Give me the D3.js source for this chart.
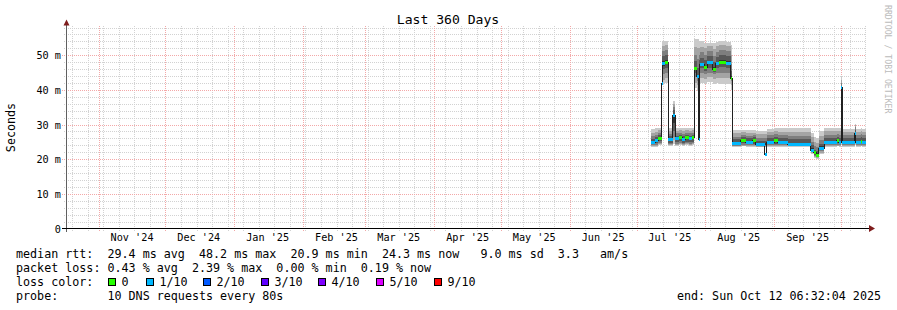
<!DOCTYPE html>
<html><head><meta charset="utf-8">
<script src="https://cdn.jsdelivr.net/npm/d3@7"></script>
<style>
body{margin:0;background:#fff}
svg{display:block}
text{font-family:"DejaVu Sans Mono",monospace;white-space:pre}
</style>
</head><body><svg id="c" width="897" height="310"></svg>
<script>
// ---------- data ----------
const title = "Last 360 Days";
const startTime = "2024-10-17T06:32:04";
const endTime = "2025-10-12T06:32:04";
const yTicks = [0, 10, 20, 30, 40, 50];
const yTickLabels = ["0", "10 m", "20 m", "30 m", "40 m", "50 m"];
const yMax = 58.3;

// segment start times (UTC), median rtt (ms), average lost pings (of 10)
const times = [
 "2025-07-07T09:00","2025-07-09T12:00","2025-07-10T18:00","2025-07-12T06:00","2025-07-12T15:00",
 "2025-07-14T00:00","2025-07-15T06:00","2025-07-17T06:00","2025-07-18T12:00","2025-07-20T00:00",
 "2025-07-21T12:00","2025-07-23T00:00","2025-07-24T12:00","2025-07-26T00:00","2025-07-27T00:00",
 "2025-07-28T00:00","2025-07-28T22:00","2025-07-29T12:00","2025-07-31T09:00","2025-08-01T22:00",
 "2025-08-04T05:00","2025-08-05T14:00","2025-08-07T02:00","2025-08-10T02:00","2025-08-12T10:00",
 "2025-08-13T03:00","2025-08-16T22:00","2025-08-19T05:00","2025-08-22T05:00","2025-08-23T17:00",
 "2025-08-27T17:00","2025-08-28T14:00","2025-09-01T02:00","2025-09-02T14:00","2025-09-07T02:00",
 "2025-09-17T10:00","2025-09-18T18:00","2025-09-19T20:00","2025-09-21T02:00","2025-09-23T10:00",
 "2025-09-29T00:00","2025-09-30T00:00","2025-10-01T02:00","2025-10-01T16:00","2025-10-07T06:00",
 "2025-10-07T18:00","2025-10-10T00:00","2025-10-10T12:00"
];
const median = [
 24.9,25.3,26.1,41.8,47.6, 48.0,25.8,32.6,25.9,26.3,
 25.8,26.2,25.9,26.2,46.2, 44.0,25.6,47.3,46.5,47.9,
 46.0,47.6,48.0,47.7,43.4, 24.6,25.4,24.9,25.3,24.2,
 21.3,24.9,25.4,24.9,24.2, 22.5,21.8,21.0,23.0,24.9,
 25.3,24.9,40.8,24.8,27.3, 24.8,25.2,24.8
];
const loss = [
 0.3,0.2,0,0.2,0.3, 0,0.3,0.4,0.3,0,
 0.2,0,0.1,0,0, 0.4,0.5,0.3,0,0.2,
 0,0.2,0,0.2,0, 0.4,0,0.2,0,0.5,
 0.4,0.3,0,0.3,0.6, 0.5,0,0,0.4,0.3,
 0,0.3,0.2,0.3,0.2, 0.3,0,0.2
];
// sorted ping rtts (ms) per segment: fastest .. slowest
const pings = [
 [23.5,23.8,24.1,24.4,24.7,25.2,25.9,26.7,27.6,28.7],
 [23.6,23.9,24.2,24.6,25.0,25.6,26.3,27.0,27.9,28.9],
 [24.0,24.4,24.8,25.3,25.8,26.4,27.0,27.6,28.3,29.1],
 [40.2,40.6,41.0,41.3,41.6,42.0,42.3,42.6,43.0,43.5],
 [41.8,43.0,44.5,46.0,47.0,48.3,49.8,51.2,52.8,54.0],
 [42.0,43.3,44.8,46.2,47.4,48.6,50.0,51.4,53.0,54.2],
 [23.8,24.1,24.4,24.8,25.4,26.0,26.7,27.4,28.2,29.0],
 [24.5,25.5,26.5,28.0,30.5,33.0,34.3,35.2,36.0,36.8],
 [23.9,24.2,24.5,24.9,25.5,26.1,26.8,27.5,28.2,28.9],
 [24.0,24.3,24.7,25.2,25.9,26.5,27.1,27.7,28.4,29.1],
 [23.8,24.1,24.4,24.8,25.4,26.0,26.7,27.4,28.2,29.0],
 [24.0,24.3,24.7,25.1,25.8,26.4,27.0,27.7,28.4,29.1],
 [23.9,24.2,24.5,24.9,25.5,26.1,26.8,27.5,28.2,28.9],
 [24.0,24.3,24.7,25.1,25.8,26.4,27.0,27.7,28.4,29.1],
 [40.5,42.0,43.8,45.0,45.8,46.6,48.2,50.2,52.5,54.8],
 [39.8,41.4,42.6,43.4,43.8,44.4,46.4,49.0,52.0,54.6],
 [40.5,42.0,43.5,45.0,46.0,47.0,48.5,50.0,52.0,54.0],
 [42.0,43.5,45.0,46.2,47.0,47.8,49.2,50.8,52.5,54.2],
 [41.8,43.2,44.6,45.6,46.2,47.0,48.5,50.2,52.0,53.6],
 [42.2,43.6,45.0,46.4,47.4,48.4,49.8,51.2,52.6,53.6],
 [41.8,43.2,44.5,45.3,45.8,46.5,48.0,49.8,51.8,53.5],
 [41.9,43.4,44.9,46.3,47.2,48.1,49.6,51.0,52.6,53.8],
 [41.6,43.4,45.0,46.6,47.6,48.5,50.0,51.6,53.0,54.0],
 [41.7,43.3,44.9,46.4,47.3,48.2,49.7,51.3,52.8,53.9],
 [40.0,41.5,42.5,43.0,43.3,44.0,45.5,47.5,50.0,53.0],
 [23.5,23.7,23.9,24.1,24.4,24.9,25.7,26.5,27.5,28.3],
 [23.7,23.9,24.2,24.6,25.1,25.7,26.4,27.1,27.8,28.5],
 [23.5,23.7,24.0,24.3,24.7,25.2,26.0,26.8,27.6,28.4],
 [23.6,23.8,24.1,24.5,25.0,25.6,26.3,27.0,27.7,28.4],
 [23.4,23.6,23.8,24.0,24.2,24.6,25.3,26.2,27.2,28.2],
 [23.4,23.6,23.8,24.0,24.2,24.6,25.3,26.2,27.2,28.2],
 [23.5,23.7,24.0,24.3,24.7,25.2,26.0,26.9,27.9,28.8],
 [23.6,23.8,24.1,24.5,25.0,25.6,26.4,27.2,28.1,28.9],
 [23.5,23.7,24.0,24.3,24.7,25.2,26.0,26.9,27.9,28.9],
 [23.5,23.7,23.9,24.1,24.3,24.8,25.7,26.8,27.9,29.0],
 [21.5,21.8,22.1,22.4,22.8,23.3,24.0,25.0,26.3,27.5],
 [20.4,20.7,21.0,21.3,21.6,22.1,22.8,23.8,25.0,26.5],
 [20.1,20.3,20.6,20.9,21.2,21.7,22.4,23.4,24.6,26.0],
 [21.5,21.9,22.3,22.7,23.1,23.7,24.5,25.6,26.8,28.0],
 [23.6,23.8,24.1,24.4,24.8,25.3,26.1,27.0,28.0,28.9],
 [23.7,23.9,24.2,24.6,25.1,25.7,26.5,27.3,28.2,29.0],
 [23.6,23.8,24.1,24.4,24.8,25.3,26.1,27.0,28.0,28.9],
 [24.0,25.0,26.0,28.0,33.0,38.0,40.5,42.0,43.0,44.0],
 [23.6,23.8,24.1,24.4,24.7,25.2,26.0,26.9,27.9,28.8],
 [24.0,24.5,25.0,25.6,26.5,27.8,28.5,29.2,29.8,30.3],
 [23.6,23.8,24.1,24.4,24.7,25.2,26.0,26.9,27.9,28.8],
 [23.7,23.9,24.2,24.6,25.0,25.6,26.4,27.2,28.1,28.9],
 [23.6,23.8,24.1,24.4,24.7,25.2,26.0,26.9,27.9,28.8]
];
const lossLevels = [0, 1, 2, 3, 4, 5, 9];
const lossLabels = ["0", "1/10", "2/10", "3/10", "4/10", "5/10", "9/10"];
const lossColors = ["#26ff00", "#00b8ff", "#0059ff", "#5e00ff", "#7e00ff", "#dd00ff", "#ff0000"];
const smokeColors = ["#cacaca", "#a4a4a4", "#7e7e7e", "#585858", "#323232"];
const legendLines = [
 "median rtt:  29.4 ms avg  48.2 ms max  20.9 ms min  24.3 ms now   9.0 ms sd  3.3   am/s",
 "packet loss: 0.43 % avg  2.39 % max  0.00 % min  0.19 % now",
 "loss color:",
 "probe:       10 DNS requests every 80s"
];
const endLabel = "end: Sun Oct 12 06:32:04 2025";
const yLabel = "Seconds";
const watermark = "RRDTOOL / TOBI OETIKER";

// ---------- drawing ----------
const svg = d3.select("#c");
const parseS = d3.utcParse("%Y-%m-%dT%H:%M:%S");
const parseM = d3.utcParse("%Y-%m-%dT%H:%M");
const t0 = parseS(startTime), t1 = parseS(endTime);
const L = 66, R = 866, T = 26.5, B = 228.5;
const x = d3.scaleUtc().domain([t0, t1]).range([L, R]);
const y = d3.scaleLinear().domain([0, yMax]).range([B, T]);

svg.append("rect").attr("width", 897).attr("height", 310).attr("fill", "#fff");

const gGrid = svg.append("g").attr("shape-rendering", "crispEdges");
const minorCol = "#d2d2d2", majorCol = "#f3a8a8";
// horizontal minor grid every 2 ms
d3.range(2, yMax, 2).filter(v => v % 10 !== 0).forEach(v => {
  const yy = Math.round(y(v)) + 0.5;
  gGrid.append("line").attr("x1", L - 2).attr("x2", R).attr("y1", yy).attr("y2", yy)
    .attr("stroke", minorCol).attr("stroke-dasharray", "1,1");
});
// vertical minor grid weekly (Sundays)
d3.utcSunday.range(t0, t1).forEach(d => {
  const xx = Math.round(x(d)) + 0.5;
  gGrid.append("line").attr("x1", xx).attr("x2", xx).attr("y1", T - 1).attr("y2", B + 2)
    .attr("stroke", minorCol).attr("stroke-dasharray", "1,1");
});
// major horizontal
yTicks.filter(v => v > 0).forEach(v => {
  const yy = Math.round(y(v)) + 0.5;
  gGrid.append("line").attr("x1", L - 4).attr("x2", R).attr("y1", yy).attr("y2", yy)
    .attr("stroke", majorCol).attr("stroke-dasharray", "1,1");
});
// major vertical (months)
const months = d3.utcMonth.range(t0, t1);
months.forEach(d => {
  const xx = Math.round(x(d)) + 0.5;
  gGrid.append("line").attr("x1", xx).attr("x2", xx).attr("y1", T - 1).attr("y2", B + 3)
    .attr("stroke", majorCol).attr("stroke-dasharray", "1,1");
});

// data
const segs = times.map((s, i) => ({ t: parseM(s), m: median[i], l: loss[i], p: pings[i] }));
const pts = segs.concat([Object.assign({}, segs[segs.length - 1], { t: t1 })]);
const gData = svg.append("g").attr("shape-rendering", "crispEdges");
smokeColors.forEach((c, k) => {
  const area = d3.area().curve(d3.curveStepAfter)
    .x(d => x(d.t)).y0(d => y(d.p[k])).y1(d => y(d.p[9 - k]));
  gData.append("path").attr("d", area(pts)).attr("fill", c);
});
const line = d3.line().curve(d3.curveStepAfter).x(d => x(d.t)).y(d => y(d.m));
gData.append("path").attr("d", line(pts)).attr("fill", "none").attr("stroke", "#202020").attr("stroke-width", 1);
function lossColor(l) {
  let idx = lossLevels.length - 1;
  for (let i = 0; i < lossLevels.length; i++) {
    const lo = i === 0 ? -1 : lossLevels[i - 1];
    if (l > lo && l <= lossLevels[i]) { idx = i; break; }
  }
  return lossColors[idx];
}
const sw = yMax / (B - T) * 1.5;
segs.forEach((s, i) => {
  const xa = x(s.t), xb = x(pts[i + 1].t);
  gData.append("rect").attr("x", xa).attr("width", Math.max(1, xb - xa))
    .attr("y", y(s.m + sw)).attr("height", y(s.m - sw) - y(s.m + sw))
    .attr("fill", lossColor(s.l));
});

// axes
const gAx = svg.append("g").attr("shape-rendering", "crispEdges");
gAx.append("line").attr("x1", L + 0.5).attr("x2", L + 0.5).attr("y1", B + 3).attr("y2", 22).attr("stroke", "#606060");
gAx.append("line").attr("x1", L - 4).attr("x2", 870).attr("y1", B).attr("y2", B).attr("stroke", "#000");
svg.append("path").attr("d", `M${L - 2.5},${25.5}L${L + 3.5},${25.5}L${L + 0.5},${19.5}Z`).attr("fill", "#7f1d1d");
svg.append("path").attr("d", `M869,${B - 3.5}L869,${B + 3.5}L875,${B}Z`).attr("fill", "#7f1d1d");

// y labels
yTicks.forEach((v, i) => {
  svg.append("text").attr("x", 61).attr("y", Math.round(y(v)) + 4)
    .attr("text-anchor", "end").attr("font-size", "10.2px").attr("fill", "#000").text(yTickLabels[i]);
});
// x labels
const fmt = d3.utcFormat("%b '%y");
months.forEach(d => {
  const mid = d3.utcDay.offset(d, 15);
  if (mid > t1) return;
  svg.append("text").attr("x", x(mid)).attr("y", 241).attr("text-anchor", "middle")
    .attr("font-size", "10.2px").attr("fill", "#000").text(fmt(d));
});

// title and labels
svg.append("text").attr("x", 448).attr("y", 24).attr("text-anchor", "middle").attr("font-size", "13.1px").text(title);
svg.append("text").attr("transform", "translate(15,127.5) rotate(-90)").attr("text-anchor", "middle")
  .attr("font-size", "11.7px").text(yLabel);
svg.append("text").attr("transform", "translate(885,5) rotate(90)").attr("font-size", "8.2px")
  .attr("fill", "#bbbbbb").text(watermark);

// legend
const lg = svg.append("g").attr("font-size", "11.7px").attr("fill", "#000");
legendLines.forEach((s, i) => {
  lg.append("text").attr("x", 16).attr("y", 258 + i * 14).text(s);
});
const boxX = [108, 146, 203, 261, 318, 376, 434];
lossLabels.forEach((lab, i) => {
  svg.append("rect").attr("x", boxX[i] + 0.5).attr("y", 278.5).attr("width", 7).attr("height", 7)
    .attr("fill", lossColors[i]).attr("stroke", "#000").attr("shape-rendering", "crispEdges");
  lg.append("text").attr("x", boxX[i] + 13.5).attr("y", 286).text(lab);
});
lg.append("text").attr("x", 881).attr("y", 300).attr("text-anchor", "end").text(endLabel);
</script>
</body></html>
